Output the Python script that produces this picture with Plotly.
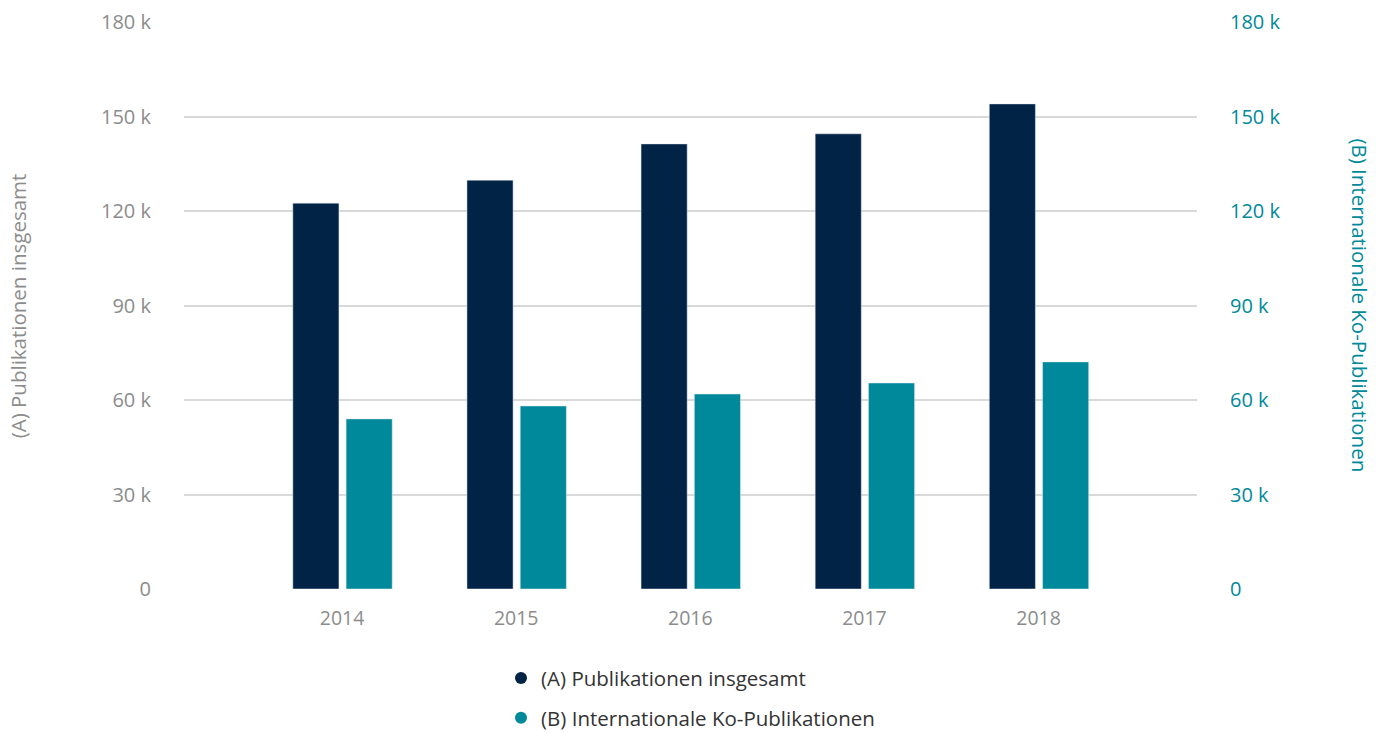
import plotly.graph_objects as go

years = ["2014", "2015", "2016", "2017", "2018"]
publikationen_gesamt = [122500, 129800, 141300, 144500, 154000]
ko_publikationen = [54000, 58100, 61900, 65400, 72100]

tick_vals = [0, 30000, 60000, 90000, 120000, 150000, 180000]
tick_text = ["0", "30 k", "60 k", "90 k", "120 k", "150 k", "180 k"]

name_a = "(A) Publikationen insgesamt"
name_b = "(B) Internationale Ko-Publikationen"

color_a = "#012345"
color_b = "#00899a"
grey = "#8c8c8c"
font = "Open Sans"

fig = go.Figure()
fig.add_trace(go.Bar(x=years, y=publikationen_gesamt, name=name_a, marker_color=color_a,
                     width=0.265, offset=-0.283, showlegend=False, yaxis="y"))
fig.add_trace(go.Bar(x=years, y=ko_publikationen, name=name_b, marker_color=color_b,
                     width=0.265, offset=0.023, showlegend=False, yaxis="y2"))

# circle markers for the legend
fig.add_trace(go.Scatter(x=[None], y=[None], mode="markers", name=name_a,
                         legendgroup="a",
                         marker=dict(color=color_a, size=13, symbol="circle")))
fig.add_trace(go.Scatter(x=[None], y=[None], mode="markers", name=name_b,
                         legendgroup="b",
                         marker=dict(color=color_b, size=13, symbol="circle")))

fig.update_layout(
    width=1387, height=733,
    margin=dict(l=184, r=190, t=22, b=144, autoexpand=False),
    paper_bgcolor="white", plot_bgcolor="white",
    font=dict(family=font, size=20, color=grey),
    barmode="overlay",
    xaxis=dict(type="category", range=[-0.908, 4.91], showgrid=False,
               showline=False, zeroline=False, ticks="",
               tickfont=dict(size=19.5, color=grey), ticklabelstandoff=15),
    yaxis=dict(range=[0, 180000], tickvals=tick_vals, ticktext=tick_text,
               showgrid=True, gridcolor="#d9d9d9", gridwidth=2,
               zeroline=False, showline=False, ticks="",
               tickfont=dict(size=20, color=grey), ticklabelstandoff=32),
    yaxis2=dict(range=[0, 180000], tickvals=tick_vals, ticktext=tick_text,
                overlaying="y", side="right", showgrid=False, zeroline=False,
                showline=False, ticks="",
                tickfont=dict(size=20, color=color_b), ticklabelstandoff=32),
    legend=dict(orientation="v", x=0.5, xanchor="center", y=-0.122, yanchor="top",
                font=dict(size=20.5, color="#333333"), itemsizing="constant",
                tracegroupgap=10),
    annotations=[
        dict(text="(A) Publikationen insgesamt", xref="paper", yref="paper",
             x=-0.164, y=0.5, xanchor="center", yanchor="middle", textangle=-90,
             showarrow=False, font=dict(size=20.5, color=grey)),
        dict(text="(B) Internationale Ko-Publikationen", xref="paper", yref="paper",
             x=1.161, y=0.5, xanchor="center", yanchor="middle", textangle=90,
             showarrow=False, font=dict(size=20.5, color=color_b)),
    ],
)

fig.write_html("out.html")
